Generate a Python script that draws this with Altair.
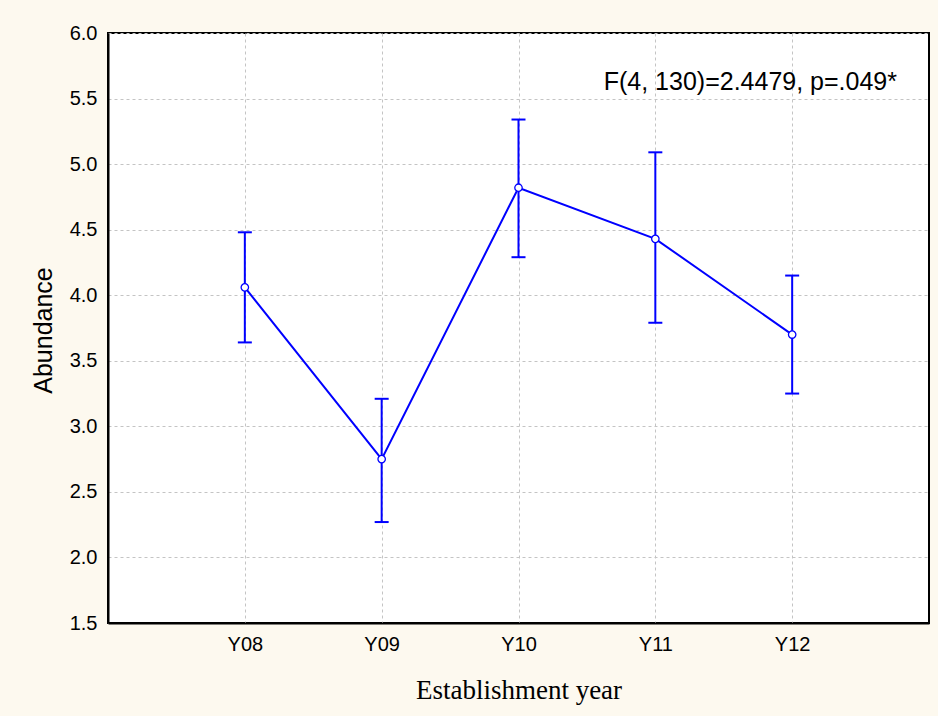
import altair as alt
import pandas as pd

years = ["Y08", "Y09", "Y10", "Y11", "Y12"]
means = [4.06, 2.75, 4.82, 4.43, 3.70]
lower = [3.64, 2.27, 4.29, 3.79, 3.25]
upper = [4.48, 3.21, 5.34, 5.09, 4.15]
y_ticks = [1.5, 2.0, 2.5, 3.0, 3.5, 4.0, 4.5, 5.0, 5.5, 6.0]
annotation = ["F(4, 130)=2.4479, p=.049*"]

df = pd.DataFrame({"year": years, "mean": means, "lo": lower, "hi": upper})
ann = pd.DataFrame({"label": annotation})

blue = "#0000ff"

x_enc = alt.X(
    "year:N",
    sort=years,
    scale=alt.Scale(type="point", padding=1),
    axis=alt.Axis(
        title="Establishment year",
        labelAngle=0,
        titleFont="Liberation Serif",
        titleFontSize=27,
        titleBaseline="alphabetic",
        titleY=75,
    ),
)
y_scale = alt.Scale(domain=[1.5, 6.0], nice=False, zero=False)
y_axis = alt.Axis(
    title="Abundance",
    values=y_ticks,
    format=".1f",
    titleFont="Liberation Sans",
    titleFontSize=25,
    titleAngle=270,
    titleAlign="center",
    titleBaseline="middle",
    titleX=-65,
    titleY=297,
)

base = alt.Chart(df)

rules = base.mark_rule(color=blue, strokeWidth=2).encode(
    x=x_enc,
    y=alt.Y("lo:Q", scale=y_scale, axis=y_axis, title="Abundance"),
    y2="hi:Q",
)
cap_lo = base.mark_tick(orient="horizontal", color=blue, thickness=2, size=14, opacity=1).encode(
    x=x_enc, y=alt.Y("lo:Q", scale=y_scale, axis=y_axis, title="Abundance")
)
cap_hi = base.mark_tick(orient="horizontal", color=blue, thickness=2, size=14, opacity=1).encode(
    x=x_enc, y=alt.Y("hi:Q", scale=y_scale, axis=y_axis, title="Abundance")
)
line = base.mark_line(color=blue, strokeWidth=2).encode(
    x=x_enc, y=alt.Y("mean:Q", scale=y_scale, axis=y_axis, title="Abundance")
)
pts = base.mark_point(
    shape="circle", filled=True, fill="white", stroke=blue, strokeWidth=1.3, size=55, opacity=1
).encode(x=x_enc, y=alt.Y("mean:Q", scale=y_scale, axis=y_axis, title="Abundance"))

text = alt.Chart(ann).mark_text(
    align="right", baseline="alphabetic", font="Liberation Sans", fontSize=25, color="black"
).encode(x=alt.value(789), y=alt.value(57), text="label:N")

chart = (
    alt.layer(rules, cap_lo, cap_hi, line, pts, text)
    .properties(
        width=821,
        height=590,
        autosize=alt.AutoSizeParams(type="none"),
        padding={"left": 108, "top": 33, "right": 9, "bottom": 93},
        background="#fdf9ef",
    )
    .configure_view(stroke="black", strokeWidth=2, fill="white")
    .configure_axis(
        grid=True,
        gridColor="#c4c4c4",
        gridDash=[3, 3],
        gridWidth=1,
        domainColor="black",
        domainWidth=2,
        ticks=False,
        labelFont="Liberation Sans",
        labelFontSize=20,
        labelColor="black",
        labelPadding=11,
        titleColor="black",
        titleFontWeight="normal",
    )
)

chart.save("out.html", embed_options={"renderer": "svg", "actions": False})
